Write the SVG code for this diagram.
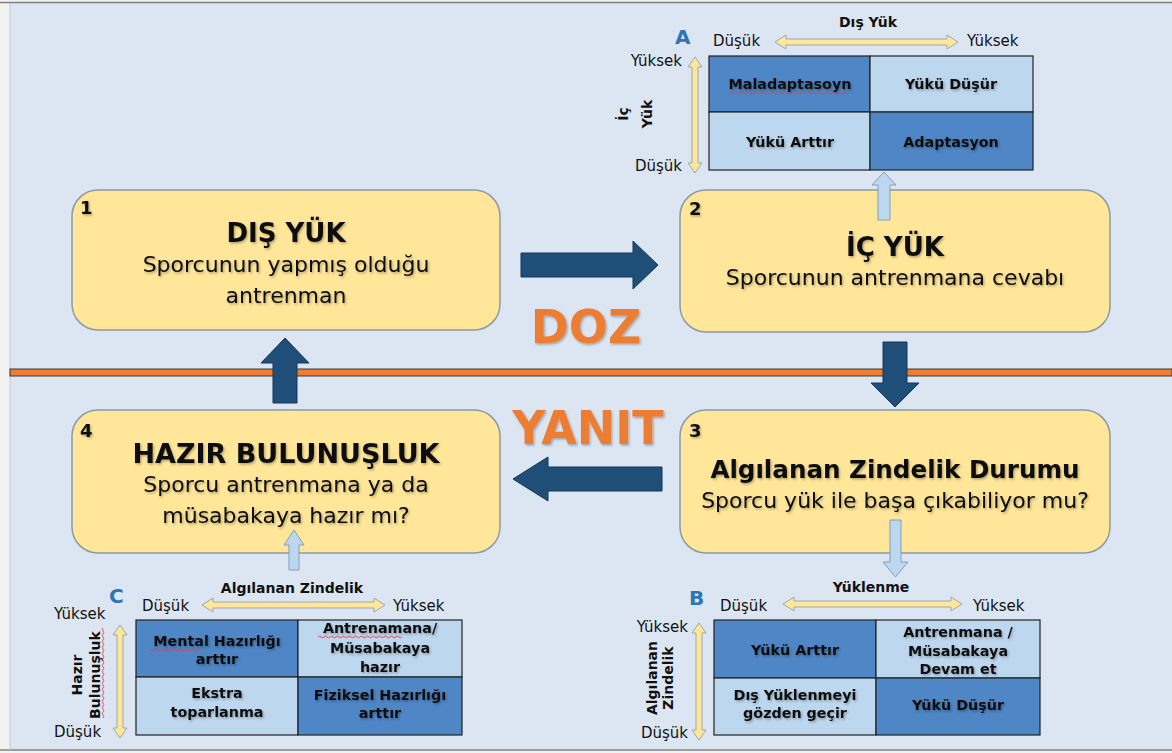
<svg xmlns="http://www.w3.org/2000/svg" width="1172" height="753" viewBox="0 0 1172 753">
<defs>
<filter id="sh" x="-10%" y="-30%" width="120%" height="160%"><feDropShadow dx="1.2" dy="1.5" stdDeviation="0.8" flood-color="#000" flood-opacity="0.3"/></filter>
</defs>
<style>
text{font-family:"DejaVu Sans","Liberation Sans",sans-serif;fill:#111}
.box{fill:#ffe699;stroke:#8c9aa6;stroke-width:1.5}
.num{font-weight:bold;font-size:18px}
.ttl{font-weight:bold;font-size:26px;text-anchor:middle}
.sub{font-size:22px;text-anchor:middle}
.big{font-weight:bold;font-size:46px;fill:#ed7d31;text-anchor:middle}
.dark{fill:#4f86c6;stroke:#222;stroke-width:1.2}
.light{fill:#bdd7ee;stroke:#222;stroke-width:1.2}
.cell{font-weight:bold;font-size:14.3px;text-anchor:middle}
.ax{font-size:15px}
.axb{font-weight:bold;font-size:14px;text-anchor:middle}
.let{font-weight:bold;font-size:20px;fill:#2e75b6}
.yarr{fill:#ffe699;stroke:#9aa7b3;stroke-width:1}
.barr{fill:#bdd7ee;stroke:#7f9fc2;stroke-width:1}
.darr{fill:#1f4e79;stroke:#15365a;stroke-width:1}
.sq{fill:none;stroke:#e04040;stroke-width:0.9}
</style>
<rect x="0" y="0" width="1172" height="753" fill="#f2f2f2"/>
<rect x="10" y="3" width="1162" height="746" fill="#dce6f2"/>
<line x1="0" y1="2.5" x2="1172" y2="2.5" stroke="#808080" stroke-width="1.5"/>
<line x1="0" y1="750" x2="1172" y2="750" stroke="#808080" stroke-width="1.5"/>
<line x1="10" y1="3" x2="10" y2="750" stroke="#c8c8c8" stroke-width="1"/>

<rect id="divider" x="10" y="369" width="1162" height="7" fill="#ed7d31" stroke="#3a3a3a" stroke-width="1"/>

<text class="big" x="586" y="343" filter="url(#sh)">DOZ</text>
<text class="big" x="588" y="444" filter="url(#sh)">YANIT</text>

<g id="node1">
<rect class="box" x="72" y="190" width="428" height="140" rx="26"/>
<g filter="url(#sh)">
<text class="num" x="80" y="214">1</text>
<text class="ttl" x="286" y="242">DIŞ YÜK</text>
<text class="sub" x="286" y="272">Sporcunun yapmış olduğu</text>
<text class="sub" x="286" y="303">antrenman</text>
</g>
</g>

<g id="node2">
<rect class="box" x="680" y="190" width="430" height="142" rx="26"/>
<g filter="url(#sh)">
<text class="num" x="689" y="215">2</text>
<text class="ttl" x="895" y="256">İÇ YÜK</text>
<text class="sub" x="895" y="285">Sporcunun antrenmana cevabı</text>
</g>
</g>

<g id="node3">
<rect class="box" x="680" y="410" width="430" height="143" rx="26"/>
<g filter="url(#sh)">
<text class="num" x="689" y="437">3</text>
<text class="ttl" x="895" y="478" style="font-size:24.6px">Algılanan Zindelik Durumu</text>
<text class="sub" x="895" y="508">Sporcu yük ile başa çıkabiliyor mu?</text>
</g>
</g>

<g id="node4">
<rect class="box" x="72" y="410" width="428" height="143" rx="26"/>
<g filter="url(#sh)">
<text class="num" x="80" y="437">4</text>
<text class="ttl" x="286" y="463" style="font-size:27px">HAZIR BULUNUŞLUK</text>
<text class="sub" x="286" y="492">Sporcu antrenmana ya da</text>
<text class="sub" x="286" y="523">müsabakaya hazır mı?</text>
</g>
</g>

<g id="matrixA">
<rect class="dark" x="709" y="56" width="161" height="56"/>
<rect class="light" x="870" y="56" width="163" height="56"/>
<rect class="light" x="709" y="112" width="161" height="58"/>
<rect class="dark" x="870" y="112" width="163" height="58"/>
<g filter="url(#sh)">
<text class="cell" x="790" y="89">Maladaptasoyn</text>
<text class="cell" x="951" y="89">Yükü Düşür</text>
<text class="cell" x="790" y="147">Yükü Arttır</text>
<text class="cell" x="951" y="147">Adaptasyon</text>
</g>
<path class="sq" d="M729,93 q1.5,-1.5 3,0 t3,0 t3,0 t3,0 t3,0 t3,0 t3,0 t3,0 t3,0 t3,0 t3,0 t3,0 t3,0 t3,0 t3,0 t3,0 t3,0 t3,0 t3,0 t3,0 t3,0 t3,0 t3,0 t3,0 t3,0 t3,0 t3,0 t3,0 t3,0 t3,0 t3,0 t3,0 t3,0 t3,0 t3,0 t3,0 t3,0 t3,0 t3,0 t3,0"/>
<text class="axb" x="868" y="27">Dış Yük</text>
<text class="let" x="675" y="44">A</text>
<text class="ax" x="713" y="46">Düşük</text>
<text class="ax" x="967" y="46">Yüksek</text>
<path class="yarr" d="M775,42 L786,35 L786,39 L947,39 L947,35 L958,42 L947,49 L947,45 L786,45 L786,49 Z"/>
<text class="ax" x="682" y="66" text-anchor="end">Yüksek</text>
<text class="ax" x="682" y="171" text-anchor="end">Düşük</text>
<path class="yarr" d="M695,57 L702,67 L698,67 L698,163 L702,163 L695,173 L688,163 L692,163 L692,67 L688,67 Z"/>
<g transform="translate(0,114) rotate(-90)">
<text class="axb" x="0" y="628">İç</text>
<text class="axb" x="0" y="652">Yük</text>
</g>
</g>

<g id="matrixB">
<rect class="dark" x="714" y="620" width="162" height="58"/>
<rect class="light" x="876" y="620" width="164" height="58"/>
<rect class="light" x="714" y="678" width="162" height="57"/>
<rect class="dark" x="876" y="678" width="164" height="57"/>
<g filter="url(#sh)">
<text class="cell" x="795" y="655">Yükü Arttır</text>
<text class="cell" x="958" y="637">Antrenmana /</text>
<text class="cell" x="958" y="656">Müsabakaya</text>
<text class="cell" x="958" y="674">Devam et</text>
<text class="cell" x="795" y="700">Dış Yüklenmeyi</text>
<text class="cell" x="795" y="718">gözden geçir</text>
<text class="cell" x="958" y="710">Yükü Düşür</text>
</g>
<text class="axb" x="871" y="592">Yüklenme</text>
<text class="let" x="689" y="605">B</text>
<text class="ax" x="720" y="611">Düşük</text>
<text class="ax" x="973" y="611">Yüksek</text>
<path class="yarr" d="M783,604 L794,597 L794,601 L951,601 L951,597 L962,604 L951,611 L951,607 L794,607 L794,611 Z"/>
<text class="ax" x="688" y="632" text-anchor="end">Yüksek</text>
<text class="ax" x="688" y="738" text-anchor="end">Düşük</text>
<path class="yarr" d="M699,623 L706,633 L702,633 L702,730 L706,730 L699,740 L692,730 L696,730 L696,633 L692,633 Z"/>
<g transform="translate(0,678) rotate(-90)">
<text class="axb" x="0" y="657">Algılanan</text>
<text class="axb" x="0" y="673">Zindelik</text>
</g>
</g>

<g id="matrixC">
<rect class="dark" x="136" y="620" width="162" height="57"/>
<rect class="light" x="298" y="620" width="164" height="57"/>
<rect class="light" x="136" y="677" width="162" height="58"/>
<rect class="dark" x="298" y="677" width="164" height="58"/>
<g filter="url(#sh)">
<text class="cell" x="217" y="646">Mental Hazırlığı</text>
<text class="cell" x="217" y="664">arttır</text>
<text class="cell" x="380" y="633">Antrenamana/</text>
<text class="cell" x="380" y="653">Müsabakaya</text>
<text class="cell" x="380" y="672">hazır</text>
<text class="cell" x="217" y="698">Ekstra</text>
<text class="cell" x="217" y="717">toparlanma</text>
<text class="cell" x="380" y="700">Fiziksel Hazırlığı</text>
<text class="cell" x="380" y="718">arttır</text>
</g>
<path class="sq" d="M149,650 q1.5,-1.5 3,0 t3,0 t3,0 t3,0 t3,0 t3,0 t3,0 t3,0 t3,0 t3,0 t3,0 t3,0 t3,0 t3,0 t3,0 t3,0 t3,0"/>
<path class="sq" d="M318,637 q1.5,-1.5 3,0 t3,0 t3,0 t3,0 t3,0 t3,0 t3,0 t3,0 t3,0 t3,0 t3,0 t3,0 t3,0 t3,0 t3,0 t3,0 t3,0 t3,0 t3,0 t3,0 t3,0 t3,0 t3,0 t3,0 t3,0 t3,0 t3,0 t3,0"/>
<text class="axb" x="292" y="593">Algılanan Zindelik</text>
<text class="let" x="109" y="603">C</text>
<text class="ax" x="142" y="611">Düşük</text>
<text class="ax" x="393" y="611">Yüksek</text>
<path class="yarr" d="M202,605 L213,598 L213,602 L374,602 L374,598 L385,605 L374,612 L374,608 L213,608 L213,612 Z"/>
<text class="ax" x="54" y="619">Yüksek</text>
<text class="ax" x="54" y="737">Düşük</text>
<path class="yarr" d="M120,625 L127,635 L123,635 L123,728 L127,728 L120,738 L113,728 L117,728 L117,635 L113,635 Z"/>
<g transform="translate(0,675) rotate(-90)">
<text class="axb" x="0" y="82">Hazır</text>
<text class="axb" x="0" y="100">Bulunuşluk</text>
</g>
<path class="sq" d="M103,628 q-1.5,1.5 0,3 t0,3 t0,3 t0,3 t0,3 t0,3 t0,3 t0,3 t0,3 t0,3 t0,3 t0,3 t0,3 t0,3 t0,3 t0,3 t0,3 t0,3 t0,3 t0,3 t0,3 t0,3 t0,3 t0,3 t0,3 t0,3 t0,3 t0,3 t0,3 t0,3"/>
</g>

<g id="connectors">
<path class="darr" d="M521,253 L633,253 L633,241 L658,265 L633,289 L633,277 L521,277 Z"/>
<path class="darr" d="M883,342 L907,342 L907,383 L919,383 L895,407 L871,383 L883,383 Z"/>
<path class="darr" d="M662,467 L548,467 L548,457 L513,479 L548,501 L548,491 L662,491 Z"/>
<path class="darr" d="M273,403 L273,363 L261,363 L285,338 L309,363 L297,363 L297,403 Z"/>
<path class="barr" d="M878,220 L878,185 L872,185 L884,172 L896,185 L890,185 L890,220 Z"/>
<path class="barr" d="M890,520 L901,520 L901,562 L908,562 L895.5,577 L883,562 L890,562 Z"/>
<path class="barr" d="M289,570 L289,545 L284,545 L294,530 L304,545 L299,545 L299,570 Z"/>
</g>
</svg>
